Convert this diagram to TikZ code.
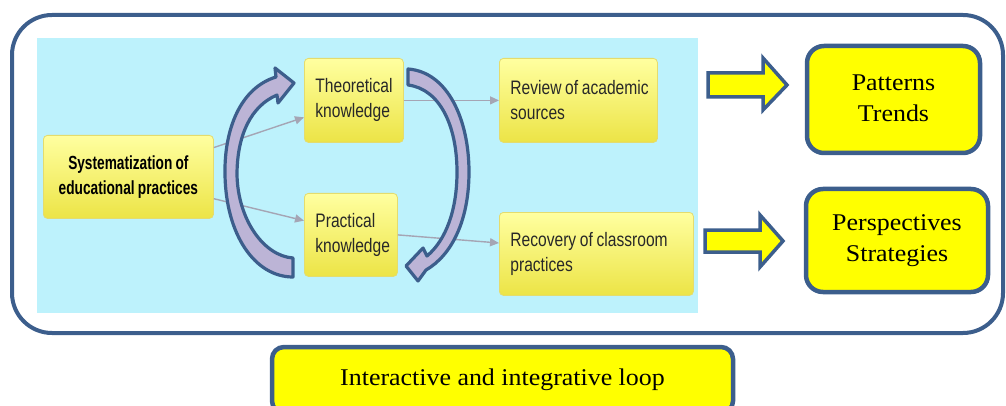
\documentclass[tikz,border=0pt]{standalone}
\usepackage{fontspec}
\usetikzlibrary{arrows.meta,calc}
\newfontfamily\condfont[FakeStretch=0.8]{Liberation Sans}
\newfontfamily\condbold[FakeStretch=0.72]{Liberation Sans}
\newfontfamily\serfont[FakeStretch=1.08]{Liberation Serif}
\definecolor{frameblue}{RGB}{60,94,140}
\definecolor{panelcyan}{RGB}{189,242,252}
\definecolor{ytop}{RGB}{255,255,160}
\definecolor{ybot}{RGB}{236,228,70}
\definecolor{yedge}{RGB}{228,220,110}
\definecolor{txtgray}{RGB}{40,40,40}
\definecolor{arrgray}{RGB}{165,165,180}
\definecolor{lav}{RGB}{188,180,214}
\definecolor{pureyellow}{RGB}{255,255,0}
\tikzset{
  ybox/.style={draw=yedge, line width=0.8pt, rounded corners=4pt,
    top color=ytop, bottom color=ybot, text=txtgray,
    font=\condfont\fontsize{19.5}{25}\selectfont, align=left,
    execute at begin node={\hyphenpenalty=10000\hbadness=10000\hfuzz=100pt\spaceskip=0.85\fontdimen2\font},
    inner xsep=11pt, inner ysep=0pt, anchor=north west},
  garrow/.style={draw=arrgray, line width=1.4pt,
    -{Triangle[length=9pt,width=8pt]}},
  bigcurve/.style={draw=frameblue, line width=3.2pt, fill=lav, line join=round},
  yarrow/.style={draw=frameblue, line width=3.5pt, fill=pureyellow, line join=miter},
  outbox/.style={draw=frameblue, line width=4.5pt, fill=pureyellow,
    rounded corners=17pt, align=center,
    font=\serfont\fontsize{24}{31}\selectfont, inner sep=0pt},
  frame/.style={draw=frameblue, line width=4pt, rounded corners=40pt}
}
\begin{document}
\begin{tikzpicture}[x=1pt,y=-1pt]
\useasboundingbox (0,0) rectangle (1006,406);
\clip (0,0) rectangle (1006,406);
% outer frame
\draw[frame] (12,15) rectangle (1003,333);
% cyan panel
\fill[panelcyan] (37,38) rectangle (698,313);
% boxes
\node[ybox, text width=148pt, align=center, minimum height=83pt,
      font=\condbold\bfseries\fontsize{19}{25}\selectfont, text=black]
      (sys) at (43,135) {Systematization of\\educational practices};
\node[ybox, text width=77pt, minimum height=84pt] (theo) at (304,58) {Theoretical\\knowledge};
\node[ybox, text width=71pt, minimum height=83pt] (prac) at (304,193) {Practical\\knowledge};
\node[ybox, text width=136pt, minimum height=84pt] (rev) at (499,58) {Review~of~academic\\sources};
\node[ybox, text width=172pt, minimum height=83pt] (rec) at (499,212) {Recovery~of~classroom\\practices};
% gray connectors
\draw[garrow] ($(sys.north east)!0.15!(sys.south east)$) -- ($(theo.north west)!0.70!(theo.south west)$);
\draw[garrow] ($(sys.north east)!0.76!(sys.south east)$) -- ($(prac.north west)!0.33!(prac.south west)$);
\draw[garrow] (theo.east) -- (rev.west);
\draw[garrow] (prac.east) -- ($(rec.north west)!0.37!(rec.south west)$);
% big curved arrows
\draw[bigcurve] (276,77) .. controls (240,88) and (224,130) .. (225,175)
  .. controls (226,235) and (255,277) .. (293,277) -- (293,258)
  .. controls (264,256) and (238,220) .. (237,175)
  .. controls (237,135) and (251,106) .. (277,95)
  -- (278,103) -- (294,83) -- (275,68) -- cycle;
\draw[bigcurve] (408,69) .. controls (448,72) and (469,120) .. (469,172)
  .. controls (469,220) and (452,255) .. (426,270)
  -- (418,281) -- (406,266) -- (423,248) -- (427,256)
  .. controls (446,240) and (457,210) .. (457,172)
  .. controls (457,126) and (440,89) .. (408,85) -- cycle;
% yellow block arrows
\draw[yarrow] (708,73) -- (763,73) -- (763,58) -- (787,85) -- (763,110) -- (763,97) -- (708,97) -- cycle;
\draw[yarrow] (705,230) -- (760,230) -- (760,215) -- (783,241) -- (760,267) -- (760,252) -- (705,252) -- cycle;
% output boxes
\node[outbox, minimum width=173pt, minimum height=107pt] (pat) at (893.5,99.5) {Patterns\\Trends\rule[-3pt]{0pt}{0pt}};
\node[outbox, minimum width=182pt, minimum height=103pt] (per) at (897,240.5) {Perspectives\\Strategies\rule[-3pt]{0pt}{0pt}};
\node[outbox, minimum width=461pt, minimum height=66pt, rounded corners=12pt] (loop) at (502.5,380) {Interactive and integrative loop};
\end{tikzpicture}
\end{document}
